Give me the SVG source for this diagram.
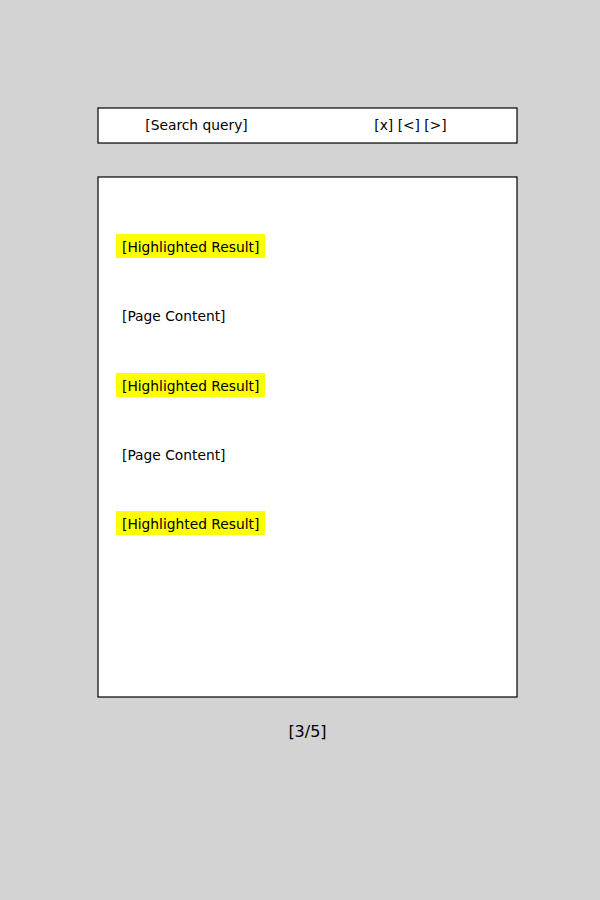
<svg xmlns="http://www.w3.org/2000/svg" width="600" height="900" viewBox="0 0 600 900">
<style>
.box{fill:#ffffff;stroke:#000000;stroke-width:1.2}
.hl{fill:#ffff00}
.t{font-family:"DejaVu Sans",sans-serif;font-size:13.8px;fill:#000000}
.c{text-anchor:middle}
</style>
<rect x="0" y="0" width="600" height="900" fill="#d3d3d3"/>
<g id="search-bar">
<rect class="box" x="98" y="108" width="419" height="35"/>
<text class="t c" x="196.5" y="129.5">[Search query]</text>
<text class="t c" x="410.5" y="129.5">[x] [&lt;] [&gt;]</text>
</g>
<g id="page">
<rect class="box" x="98" y="177" width="419" height="520"/>
</g>
<g id="result1">
<rect class="hl" x="116" y="234" width="149" height="24"/>
<text class="t" x="122" y="251.5">[Highlighted Result]</text>
</g>
<g id="content1">
<text class="t" x="122" y="320.5">[Page Content]</text>
</g>
<g id="result2">
<rect class="hl" x="116" y="373" width="149" height="24"/>
<text class="t" x="122" y="390.5">[Highlighted Result]</text>
</g>
<g id="content2">
<text class="t" x="122" y="459.5">[Page Content]</text>
</g>
<g id="result3">
<rect class="hl" x="116" y="511" width="149" height="24"/>
<text class="t" x="122" y="528.5">[Highlighted Result]</text>
</g>
<g id="counter">
<text class="t c" x="307.5" y="736.5" style="font-size:16px">[3/5]</text>
</g>
<g id="connectors"></g>
</svg>
